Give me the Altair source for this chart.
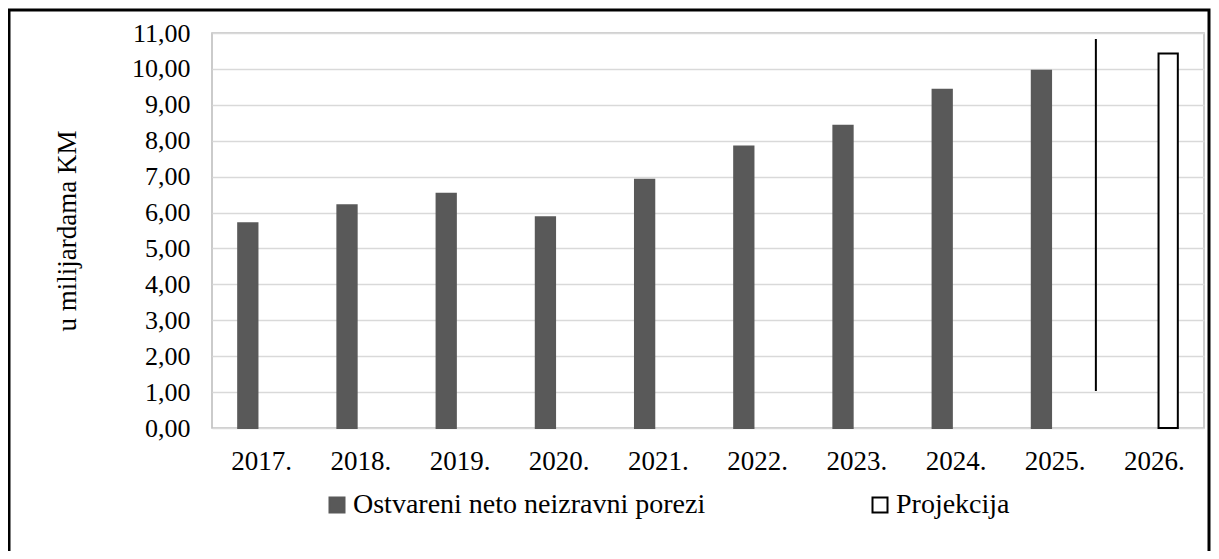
import altair as alt
import pandas as pd

# ---- data ----
years = ["2017.", "2018.", "2019.", "2020.", "2021.", "2022.", "2023.", "2024.", "2025.", "2026."]
ostvareni = [5.70, 6.20, 6.52, 5.87, 6.91, 7.84, 8.42, 9.42, 9.95, None]
projekcija = [None, None, None, None, None, None, None, None, None, 10.43]
series_names = ["Ostvareni neto neizravni porezi", "Projekcija"]
divider_year = ["2025."]
divider_top = [10.83]
divider_bottom = [1.03]
y_ticks = [0, 1, 2, 3, 4, 5, 6, 7, 8, 9, 10, 11]
y_title = "u milijardama KM"

rows = []
for yr, a, b in zip(years, ostvareni, projekcija):
    if a is not None:
        rows.append({"year": yr, "series": series_names[0], "value": a})
    if b is not None:
        rows.append({"year": yr, "series": series_names[1], "value": b})
bars_df = pd.DataFrame(rows)
div_df = pd.DataFrame({"year": divider_year, "top": divider_top, "bottom": divider_bottom})
frame_df = pd.DataFrame({"frame": [1]})

FONT = "Liberation Serif"
W, H = 992, 395

x_scale = alt.Scale(domain=years, paddingInner=0, paddingOuter=0)
y_scale = alt.Scale(domain=[0, 11], nice=False, zero=True)

x_axis = alt.Axis(labelAngle=0, ticks=False, tickSize=0, domain=False,
                  labelFont=FONT, labelFontSize=27, labelColor="#000000",
                  labelPadding=20, grid=False)
y_axis = alt.Axis(values=y_ticks, ticks=False, domain=False, labelOverlap=False,
                  labelExpr="replace(format(datum.value, '.2f'), '.', ',')",
                  labelFont=FONT, labelFontSize=26, labelColor="#000000",
                  labelPadding=22, gridColor="#d9d9d9", gridWidth=1.6,
                  titleFont=FONT, titleFontSize=27, titleFontWeight="normal",
                  titleColor="#000000", titlePadding=50)

legend = alt.Legend(
    title=None, orient="none", direction="horizontal", columns=2,
    legendX=111, legendY=458, columnPadding=160,
    symbolType="square", symbolSize=225, symbolStrokeWidth=2,
    labelFont=FONT, labelFontSize=28, labelColor="#000000", labelOffset=2,
    labelLimit=600,
)

bars = alt.Chart(bars_df).mark_bar(strokeWidth=2).encode(
    x=alt.X("year:N", scale=x_scale, sort=years, title=None, axis=x_axis),
    xOffset=alt.XOffset("series:N", sort=series_names,
                        scale=alt.Scale(domain=series_names, paddingInner=0.3, paddingOuter=0.95)),
    y=alt.Y("value:Q", scale=y_scale, title=y_title, axis=y_axis),
    color=alt.Color("series:N", scale=alt.Scale(domain=series_names, range=["#595959", "#ffffff"]),
                    legend=legend),
    stroke=alt.Stroke("series:N", scale=alt.Scale(domain=series_names, range=["#595959", "#000000"]),
                      legend=legend),
)

divider = alt.Chart(div_df).mark_rule(color="#000000", strokeWidth=2).encode(
    x=alt.X("year:N", scale=x_scale, sort=years, bandPosition=0.91, title=None, axis=x_axis),
    y=alt.Y("top:Q", scale=y_scale, title=y_title, axis=y_axis),
    y2="bottom:Q",
)

frame = alt.Chart(frame_df).mark_rect(filled=False, stroke="#000000", strokeWidth=3, clip=False).encode(
    x=alt.value(-203), x2=alt.value(997), y=alt.value(-23), y2=alt.value(560),
)

chart = alt.layer(bars, divider, frame).properties(
    width=W, height=H,
    autosize=alt.AutoSizeParams(type="none"),
    padding={"left": 204, "top": 25, "right": 7, "bottom": 123},
    background="#ffffff",
).configure_view(
    stroke="#bfbfbf", strokeWidth=1.6,
)

chart.save("out.html", embed_options={"renderer": "svg", "actions": False})
